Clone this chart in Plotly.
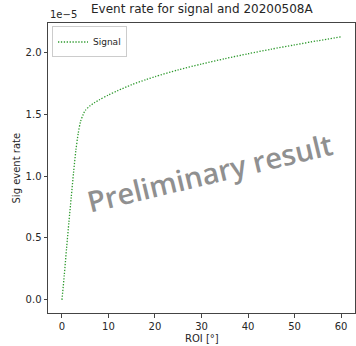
import plotly.graph_objects as go

# Data (y in units of 1e-5)
roi_deg = [0, 0.5, 1, 1.5, 2, 2.5, 3, 3.5, 4, 4.6, 5, 6, 7, 8, 10, 12, 15, 18, 20, 25, 30, 35, 40, 45, 50, 55, 60]
sig_rate_e5 = [0, 0.2, 0.42, 0.63, 0.83, 1.03, 1.21, 1.345, 1.44, 1.50, 1.53, 1.566, 1.593, 1.615, 1.655, 1.69,
               1.738, 1.778, 1.803, 1.858, 1.905, 1.948, 1.988, 2.025, 2.06, 2.093, 2.125]
SCALE = 1e-5
sig_rate = [v * SCALE for v in sig_rate_e5]

x_ticks = [0, 10, 20, 30, 40, 50, 60]
y_ticks_e5 = [0.0, 0.5, 1.0, 1.5, 2.0]
y_tick_labels = ["0.0", "0.5", "1.0", "1.5", "2.0"]

W, H = 356, 346
L, R, T, B = 48, 1, 23, 33

fig = go.Figure()
fig.add_trace(go.Scatter(
    x=roi_deg, y=sig_rate, mode="lines", name="Signal",
    line=dict(color="#2e9a2e", width=1.3, dash="1.3px,1.6px", shape="spline", smoothing=0.8),
))

font = "DejaVu Sans"
txt = "#262626"
axis_common = dict(
    showgrid=False, zeroline=False, showline=True, mirror=True,
    linecolor="#444444", linewidth=1, ticks="outside", ticklen=3.5,
    tickwidth=1, tickcolor="#444444",
    tickfont=dict(family=font, size=10, color=txt),
)
fig.update_layout(
    width=W, height=H,
    margin=dict(l=L, r=R, t=T, b=B),
    paper_bgcolor="white", plot_bgcolor="white",
    xaxis=dict(range=[-3, 63], tickvals=x_ticks, **axis_common),
    yaxis=dict(range=[-0.1065 * SCALE, 2.2365 * SCALE],
               tickvals=[v * SCALE for v in y_ticks_e5], ticktext=y_tick_labels,
               **axis_common),
    showlegend=True,
    legend=dict(x=0.013, y=0.988, xanchor="left", yanchor="top",
                bgcolor="rgba(255,255,255,0.8)", bordercolor="#cccccc", borderwidth=1,
                font=dict(family=font, size=9, color=txt),
                itemwidth=30, tracegroupgap=0),
    annotations=[
        dict(text="Event rate for signal and 20200508A", xref="paper", yref="paper",
             x=0.5, y=1, yshift=5, xanchor="center", yanchor="bottom", showarrow=False,
             font=dict(family=font, size=12, color=txt)),
        dict(text="1e\u22125", xref="paper", yref="paper", x=0, y=1, yshift=1,
             xanchor="left", yanchor="bottom", showarrow=False,
             font=dict(family=font, size=10, color=txt)),
        dict(text="Sig event rate", xref="paper", yref="paper", x=0, y=0.5, xshift=-25,
             xanchor="right", yanchor="middle", textangle=-90, showarrow=False,
             font=dict(family=font, size=10, color=txt)),
        dict(text="ROI [°]", xref="paper", yref="paper", x=0.5, y=0, yshift=-18,
             xanchor="center", yanchor="top", showarrow=False,
             font=dict(family=font, size=10, color=txt)),
        dict(text="Preliminary result", xref="paper", yref="paper",
             x=(209 - L) / (W - L - R), y=(H - B - 172) / (H - T - B),
             xanchor="center", yanchor="middle", textangle=-13.5, showarrow=False,
             font=dict(family="Open Sans", size=29, color="#909090", weight=600)),
    ],
)

fig.write_html("out.html")
